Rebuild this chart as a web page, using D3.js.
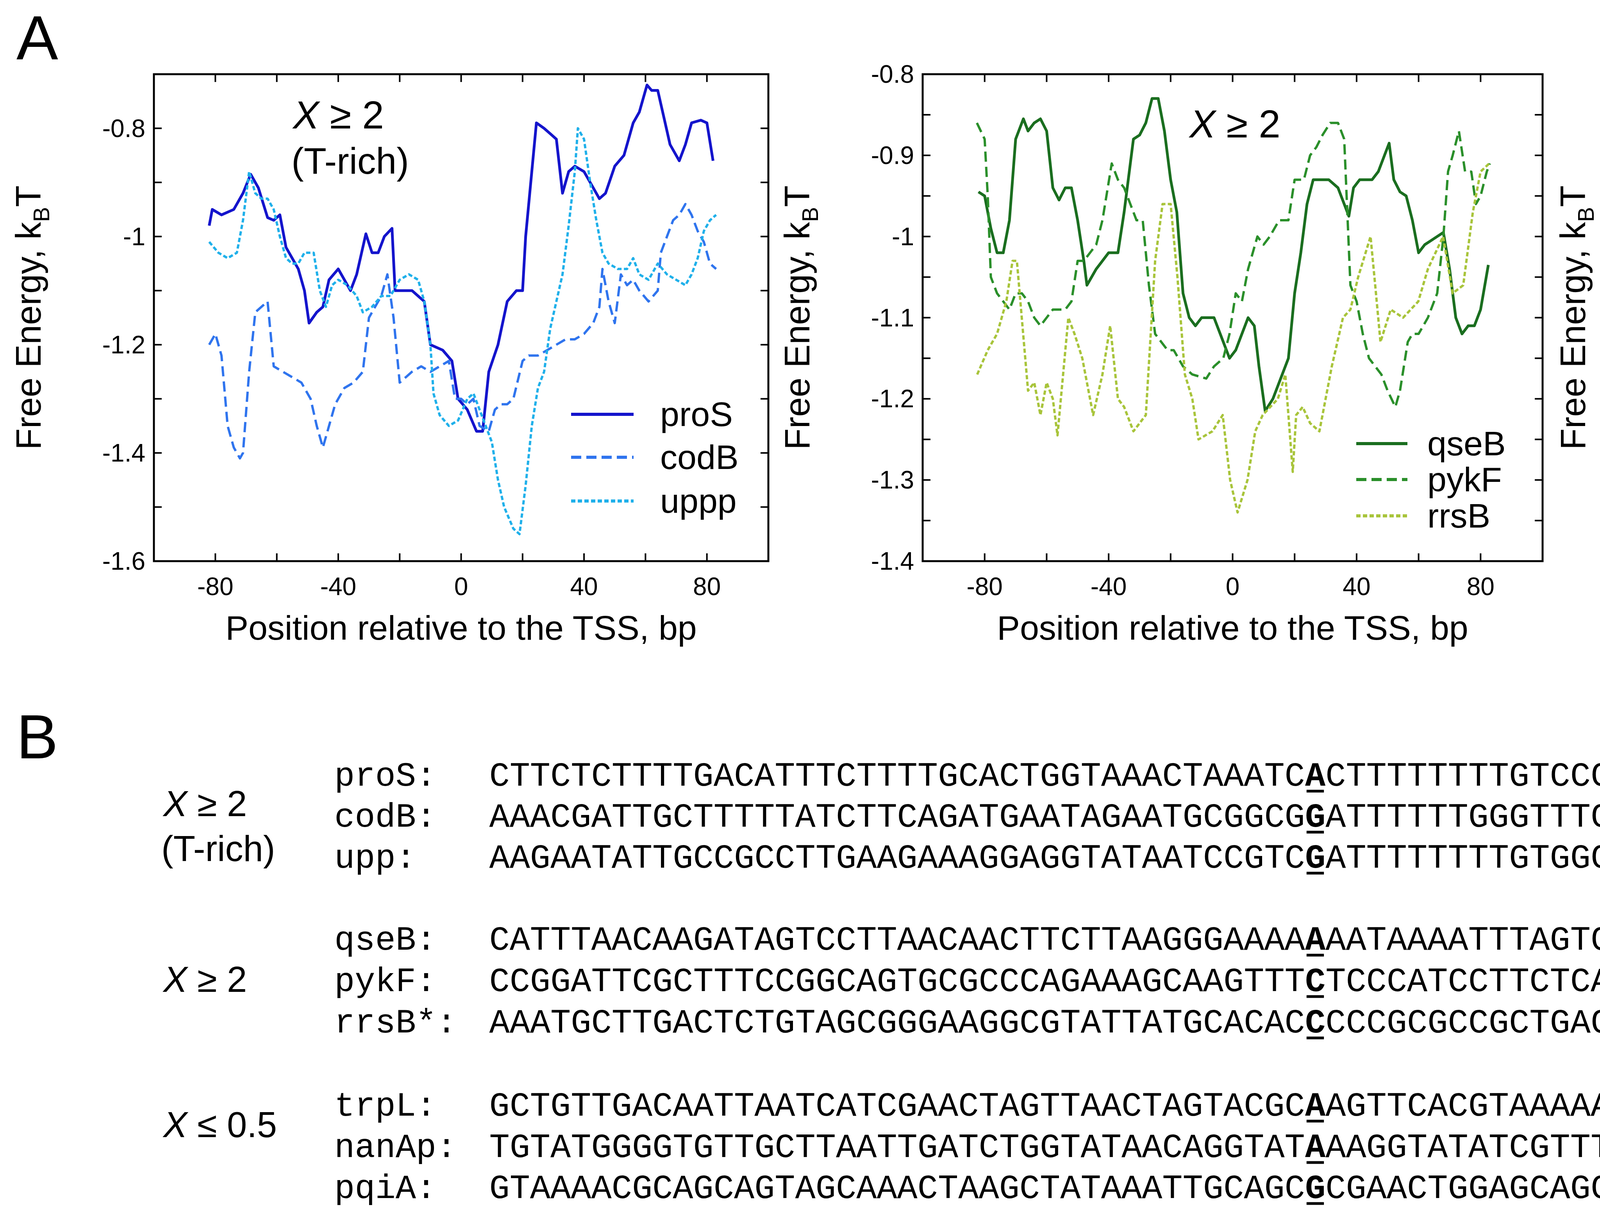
<!DOCTYPE html>
<html><head><meta charset="utf-8">
<script src="https://cdn.jsdelivr.net/npm/d3@7"></script>
<style>body{margin:0;background:#fff}svg{display:block}</style>
</head><body>
<script>
// ---------- DATA ----------
const proS=[[-82,-0.98],[-81,-0.95],[-78,-0.96],[-74,-0.95],[-71,-0.92],[-68.5,-0.885],[-66,-0.91],[-63,-0.965],[-61,-0.97],[-59,-0.96],[-57,-1.02],[-55,-1.04],[-53,-1.06],[-51,-1.1],[-49.5,-1.16],[-47,-1.14],[-45,-1.13],[-43,-1.08],[-40,-1.06],[-38,-1.08],[-36,-1.1],[-34,-1.07],[-31,-0.995],[-29,-1.03],[-27,-1.03],[-25,-1.0],[-22.5,-0.985],[-21.5,-1.1],[-20,-1.1],[-16,-1.1],[-12,-1.12],[-10,-1.2],[-6,-1.21],[-3,-1.23],[-1,-1.3],[2,-1.32],[5,-1.36],[7,-1.36],[9,-1.25],[12,-1.2],[15,-1.12],[18,-1.1],[20,-1.1],[21,-1.0],[23,-0.88],[24.5,-0.79],[27,-0.8],[29,-0.81],[31,-0.82],[33,-0.92],[35,-0.88],[37,-0.87],[40,-0.88],[42,-0.9],[45,-0.93],[47,-0.92],[50,-0.87],[53,-0.85],[56,-0.79],[58,-0.77],[60.5,-0.72],[62,-0.73],[64,-0.73],[66,-0.78],[68,-0.83],[71,-0.86],[73,-0.83],[75,-0.79],[78,-0.785],[80,-0.79],[82,-0.86]];
const codB=[[-82,-1.2],[-80,-1.18],[-78,-1.22],[-76,-1.35],[-74,-1.39],[-72,-1.41],[-71,-1.4],[-69,-1.25],[-67,-1.14],[-65,-1.13],[-63,-1.12],[-61,-1.24],[-58,-1.25],[-55,-1.26],[-52,-1.27],[-49,-1.3],[-47,-1.35],[-45,-1.39],[-43,-1.35],[-41,-1.31],[-38,-1.28],[-35,-1.27],[-32,-1.25],[-30,-1.15],[-28,-1.13],[-26,-1.11],[-24,-1.07],[-22,-1.15],[-20,-1.27],[-18,-1.26],[-16,-1.25],[-13,-1.24],[-10,-1.25],[-7,-1.24],[-4,-1.23],[-2,-1.3],[0,-1.3],[2,-1.31],[4,-1.3],[6,-1.35],[9,-1.36],[11,-1.32],[13,-1.31],[15,-1.31],[17,-1.3],[20,-1.23],[22,-1.22],[25,-1.22],[28,-1.21],[31,-1.2],[34,-1.19],[37,-1.19],[40,-1.18],[43,-1.16],[45,-1.13],[46,-1.06],[48,-1.12],[50,-1.16],[52,-1.07],[54,-1.09],[56,-1.08],[58,-1.1],[61,-1.12],[64,-1.1],[65,-1.03],[67,-1.0],[69,-0.97],[71,-0.96],[73,-0.94],[75,-0.96],[77,-0.99],[79,-1.01],[81,-1.05],[83,-1.06]];
const uppp=[[-82,-1.01],[-79,-1.03],[-76,-1.04],[-73,-1.03],[-71,-0.97],[-69,-0.88],[-67,-0.92],[-65,-0.93],[-63,-0.93],[-61,-0.95],[-59,-1.0],[-57,-1.04],[-55,-1.05],[-53,-1.05],[-51,-1.03],[-48,-1.03],[-46,-1.1],[-44,-1.13],[-42,-1.09],[-40,-1.08],[-37,-1.09],[-34,-1.11],[-32,-1.14],[-29,-1.13],[-26,-1.11],[-23,-1.11],[-20,-1.08],[-17,-1.07],[-14,-1.08],[-12,-1.12],[-10,-1.2],[-9,-1.29],[-7,-1.33],[-4,-1.35],[-1,-1.34],[2,-1.3],[4,-1.29],[6,-1.32],[8,-1.35],[10,-1.38],[12,-1.45],[14,-1.5],[17,-1.54],[19,-1.55],[21,-1.46],[23,-1.35],[25,-1.28],[27,-1.25],[29,-1.17],[31,-1.12],[33,-1.07],[35,-0.98],[37,-0.88],[38,-0.8],[40,-0.82],[42,-0.9],[44,-0.97],[46,-1.03],[48,-1.05],[51,-1.06],[54,-1.06],[56,-1.04],[58,-1.07],[61,-1.08],[64,-1.05],[67,-1.07],[70,-1.08],[73,-1.09],[75,-1.07],[77,-1.04],[79,-0.99],[81,-0.97],[83,-0.96]];
const qseB=[[-82,-0.945],[-80,-0.95],[-78,-0.99],[-76,-1.02],[-74,-1.02],[-72,-0.98],[-70,-0.88],[-67.5,-0.855],[-66,-0.87],[-64,-0.86],[-62,-0.855],[-60,-0.87],[-58,-0.94],[-56,-0.955],[-54,-0.94],[-52,-0.94],[-50,-0.98],[-48,-1.03],[-47,-1.06],[-44,-1.04],[-42,-1.03],[-40,-1.02],[-37,-1.02],[-35,-0.97],[-32,-0.88],[-30,-0.875],[-28,-0.86],[-26,-0.83],[-24,-0.83],[-22,-0.87],[-20,-0.93],[-18,-0.97],[-16,-1.07],[-14,-1.1],[-12,-1.11],[-10,-1.1],[-8,-1.1],[-6,-1.1],[-4,-1.12],[-1,-1.15],[1,-1.14],[3,-1.12],[5,-1.1],[7,-1.11],[8.5,-1.16],[10.5,-1.215],[13,-1.2],[16,-1.17],[18,-1.15],[20,-1.07],[22,-1.02],[24,-0.96],[26,-0.93],[28,-0.93],[31,-0.93],[34,-0.94],[36,-0.96],[37.5,-0.975],[39,-0.94],[41,-0.93],[43,-0.93],[45,-0.93],[47,-0.92],[49,-0.9],[50.5,-0.885],[52,-0.93],[54,-0.945],[56,-0.95],[58,-0.98],[60,-1.02],[62,-1.01],[64,-1.005],[66,-1.0],[68,-0.995],[70,-1.04],[72,-1.1],[74,-1.12],[76,-1.11],[78,-1.11],[80,-1.09],[82.5,-1.035]];
const pykF=[[-82.5,-0.86],[-80,-0.88],[-79,-0.95],[-78,-1.05],[-76,-1.07],[-74,-1.08],[-72,-1.09],[-70,-1.07],[-68,-1.07],[-66,-1.08],[-64,-1.1],[-62,-1.11],[-60,-1.1],[-58,-1.09],[-56,-1.09],[-54,-1.09],[-52,-1.08],[-50,-1.03],[-48,-1.03],[-46,-1.02],[-44,-1.01],[-42,-0.98],[-39,-0.91],[-37,-0.93],[-35,-0.94],[-33,-0.96],[-31,-0.98],[-29,-0.98],[-27,-1.06],[-25,-1.12],[-23,-1.13],[-21,-1.14],[-19,-1.14],[-16,-1.16],[-13,-1.17],[-8.5,-1.175],[-6,-1.16],[-3,-1.15],[-1,-1.12],[1,-1.07],[3,-1.08],[5,-1.04],[8,-1.0],[10,-1.01],[12,-1.0],[15,-0.98],[18,-0.98],[20,-0.93],[23,-0.93],[25,-0.9],[27,-0.89],[29,-0.875],[31.5,-0.86],[34,-0.86],[36,-0.88],[38,-1.06],[40,-1.08],[42,-1.12],[44,-1.15],[46,-1.16],[48,-1.17],[50,-1.19],[52.5,-1.21],[54,-1.19],[56.5,-1.13],[58,-1.12],[60,-1.12],[63,-1.1],[66,-1.07],[68,-1.0],[69.5,-0.92],[71,-0.9],[73,-0.87],[75,-0.92],[77,-0.92],[78.5,-0.96],[80,-0.95],[82,-0.92],[83,-0.91]];
const rrsB=[[-82.4,-1.17],[-79,-1.14],[-76,-1.12],[-73,-1.08],[-71,-1.03],[-69.6,-1.03],[-66,-1.19],[-64,-1.18],[-62,-1.22],[-60,-1.18],[-58,-1.2],[-56.5,-1.245],[-53,-1.1],[-51,-1.12],[-48.5,-1.15],[-45,-1.22],[-42,-1.17],[-39.5,-1.11],[-37,-1.2],[-35,-1.21],[-32,-1.24],[-28,-1.22],[-25,-1.03],[-22.6,-0.96],[-20,-0.96],[-17.8,-1.05],[-15.4,-1.17],[-13,-1.2],[-11,-1.25],[-6.5,-1.24],[-3.2,-1.22],[-0.8,-1.3],[1.6,-1.34],[4.8,-1.3],[7.3,-1.24],[9.7,-1.22],[14.6,-1.2],[17,-1.17],[19.4,-1.29],[20.5,-1.22],[22.6,-1.21],[25,-1.23],[28,-1.24],[32,-1.16],[35.6,-1.1],[38,-1.09],[40.5,-1.05],[44.5,-1.0],[46,-1.06],[47.7,-1.13],[51,-1.09],[55,-1.1],[59.9,-1.08],[63,-1.04],[67.9,-1.0],[71,-1.07],[74.4,-1.06],[77.5,-0.97],[80,-0.92],[82.8,-0.91]];
const trpL=[[-82.4,-1.04],[-80,-1.04],[-78,-1.0],[-74,-1.015],[-71,-0.97],[-68,-0.99],[-66,-0.99],[-64,-0.88],[-62,-0.87],[-60.5,-0.885],[-59,-0.86],[-54,-0.84],[-51,-0.87],[-48.5,-0.85],[-45.6,-0.78],[-43,-0.9],[-39.7,-0.93],[-34.9,-1.035],[-31.5,-1.02],[-26.7,-1.015],[-22.6,-0.99],[-19.4,-0.85],[-15.3,-0.825],[-11.3,-0.85],[-7.3,-0.84],[-4,-0.735],[-1.6,-0.74],[1.6,-0.8],[4,-0.83],[6.5,-0.82],[9.7,-0.86],[12,-0.825],[20,-0.835],[23.4,-0.84],[25.8,-0.79],[28.3,-0.86],[30.7,-0.915],[33.9,-0.89],[38.8,-0.9],[41,-0.96],[43.6,-0.97],[47.7,-0.92],[50,-0.92],[52.5,-0.825],[55.7,-0.825],[58.9,-0.89],[62,-0.98],[65.4,-0.99],[67.8,-1.03],[71.8,-1.02],[74.2,-0.905],[78.2,-0.93],[80,-0.96],[82.4,-0.99]];
const nanAp=[[-82.4,-1.225],[-77.5,-1.225],[-71.8,-1.21],[-69.4,-1.15],[-67.9,-1.07],[-65.5,-1.04],[-63,-1.04],[-61.4,-0.96],[-59,-0.93],[-55,-0.915],[-51,-0.91],[-48.5,-0.91],[-46.9,-0.84],[-43.6,-0.83],[-36.3,-0.84],[-33.9,-0.865],[-29,-0.865],[-27.5,-0.82],[-23.4,-0.8],[-21,-0.71],[-19.4,-0.69],[-16.2,-0.705],[-13.7,-0.67],[-10.5,-0.625],[-8,-0.655],[-5.7,-0.66],[-3.2,-0.72],[-0.8,-0.8],[2.4,-0.81],[3.2,-0.87],[7.3,-0.86],[13.7,-0.87],[18.6,-0.88],[21,-0.92],[23.4,-1.01],[26.7,-1.02],[29,-0.99],[31.5,-0.975],[33.9,-0.935],[35.5,-0.96],[37.2,-1.04],[39.6,-1.09],[42.8,-1.16],[46,-1.165],[48.5,-1.13],[53.3,-1.12],[56.5,-1.09],[59.7,-1.1],[63,-1.09],[67.8,-1.07],[71,-1.04],[74.2,-1.03],[78.2,-1.025],[82.4,-0.99]];
const pqiA=[[-82.4,-1.165],[-78.4,-1.16],[-76,-1.2],[-73.5,-1.24],[-70.6,-1.265],[-68.7,-1.22],[-66.3,-1.16],[-63.8,-1.15],[-61.4,-1.06],[-59.3,-0.97],[-55.7,-1.0],[-51.7,-1.03],[-46.9,-1.03],[-44.4,-0.93],[-42,-0.77],[-38,-0.755],[-33.9,-0.76],[-30.7,-0.75],[-28.3,-0.78],[-25.8,-0.79],[-24,-0.87],[-21.8,-0.875],[-18.6,-0.87],[-16.2,-0.96],[-11.3,-0.97],[-5.7,-0.97],[-4,-0.98],[-1.6,-0.94],[0,-0.96],[2.4,-0.98],[4.8,-0.98],[6.5,-0.87],[9.7,-0.85],[12,-0.83],[15.3,-0.805],[20,-0.81],[23.4,-0.85],[26.7,-0.9],[29.9,-0.91],[32.3,-0.86],[36.4,-0.815],[40.4,-0.85],[44.4,-0.86],[49.2,-0.855],[52.5,-0.83],[54.4,-0.79],[57.3,-0.84],[60.5,-0.86],[63,-0.93],[66.2,-1.07],[69.4,-1.12],[73.4,-1.11],[76.6,-1.1],[79,-1.05],[82.4,-1.065]];

const seriesNames=[["proS","codB","uppp"],["qseB","pykF","rrsB"],["trpL","nanAp","pqiA"]];
const seriesData=[[proS,codB,uppp],[qseB,pykF,rrsB],[trpL,nanAp,pqiA]];
const seriesColors=[["#1414cc","#2f74ee","#1fb0ea"],["#1a6e1f","#2a8f2a","#a8c43a"],["#f0107a","#de4fb0","#dd7ee0"]];
const yDomains=[[-1.6,-0.7],[-1.4,-0.8],[-1.3,-0.6]];
const yLabelTicks=[[-1.6,-1.4,-1.2,-1,-0.8],[-1.4,-1.3,-1.2,-1.1,-1,-0.9,-0.8],[-1.3,-1.2,-1.1,-1,-0.9,-0.8,-0.7,-0.6]];
const yMinorStep=[0.1,0.05,0.05];
const xLabelTicks=[-80,-40,0,40,80];
const xMinorTicks=[-80,-60,-40,-20,0,20,40,60,80];
const annotations=[["X","≥ 2","(T-rich)"],["X","≥ 2",""],["X","≤ 0.5",""]];

const seqLabels=["proS:","codB:","upp:","qseB:","pykF:","rrsB*:","trpL:","nanAp:","pqiA:"];
const seqLeft=["CTTCTCTTTTGACATTTCTTTTGCACTGGTAAACTAAATC","AAACGATTGCTTTTTATCTTCAGATGAATAGAATGCGGCG","AAGAATATTGCCGCCTTGAAGAAAGGAGGTATAATCCGTC","CATTTAACAAGATAGTCCTTAACAACTTCTTAAGGGAAAA","CCGGATTCGCTTTCCGGCAGTGCGCCCAGAAAGCAAGTTT","AAATGCTTGACTCTGTAGCGGGAAGGCGTATTATGCACAC","GCTGTTGACAATTAATCATCGAACTAGTTAACTAGTACGC","TGTATGGGGTGTTGCTTAATTGATCTGGTATAACAGGTAT","GTAAAACGCAGCAGTAGCAAACTAAGCTATAAATTGCAGC"];
const seqMid=["A","G","G","A","C","C","A","A","G"];
const seqRight=["CTTTTTTTTGTCCCAGGCTCGCCTTGAGCCTGTTCTACC","ATTTTTTGGGTTTCAAACAGCAAAAAGGGGGAATTTCGT","ATTTTTTTTGTGGCTGCCCCTCAAAGGAGAAAGAGTATG","AATAAAATTTAGTGCTGTACAGAGCGCGTTACAACACGG","TCCCATCCTTCTCAACTTAAAGACTAAGACTGTCATGAA","CCCGCGCCGCTGAGAAAAAGCGAAGCGGCACTGCTCTTTA","AGTTCACGTAAAAAGGGTATCGACAATGAAAGCAATTTT","AAGGTATATCGTTTATCAGACAAGCATCACTTCAGAGGT","CGAACTGGAGCAGCTACCGCAATTGCTCGAAGATCTGGA"];
const groupLabels=[["X","≥ 2","(T-rich)"],["X","≥ 2",""],["X","≤ 0.5",""]];

// ---------- LAYOUT ----------
const W=5966,H=3114;
const svg=d3.select("body").append("svg").attr("width",W).attr("height",H).attr("viewBox",`0 0 ${W} ${H}`);
const SANS="'Liberation Sans',Arial,sans-serif";
const MONO="'Liberation Mono','Courier New',monospace";
const panels=[{l:394,r:1967},{l:2362,r:3949},{l:4348,r:5931}];
const pTop=190,pBottom=1437;
const legendPos=[{x1:1462,x2:1622,tx:1690,ys:[1061,1171,1283]},{x1:3472,x2:3603,tx:3654,ys:[1136,1228,1321]},{x1:4828,x2:4992,tx:5053,ys:[1095,1209,1325]}];
const annoPos=[{x:750,y:329,y2:445},{x:3045,y:352},{x:4428,y:352}];
const dashes=[null,"26,13","11,6"];
const fmt=v=>String(+v.toFixed(2));

svg.append("text").attr("x",42).attr("y",152).attr("font-family",SANS).attr("font-size",160).text("A");

panels.forEach((p,i)=>{
  const x=d3.scaleLinear().domain([-100,100]).range([p.l,p.r]);
  const y=d3.scaleLinear().domain(yDomains[i]).range([pBottom,pTop]);
  const g=svg.append("g");
  const tl=20;
  const yt=d3.range(yDomains[i][0],yDomains[i][1]+1e-9,yMinorStep[i]);
  yt.forEach(v=>{
    g.append("line").attr("x1",p.l).attr("x2",p.l+tl).attr("y1",y(v)).attr("y2",y(v)).attr("stroke","#000").attr("stroke-width",4);
    g.append("line").attr("x1",p.r).attr("x2",p.r-tl).attr("y1",y(v)).attr("y2",y(v)).attr("stroke","#000").attr("stroke-width",4);
  });
  xMinorTicks.forEach(v=>{
    g.append("line").attr("x1",x(v)).attr("x2",x(v)).attr("y1",pBottom).attr("y2",pBottom-tl).attr("stroke","#000").attr("stroke-width",4);
    g.append("line").attr("x1",x(v)).attr("x2",x(v)).attr("y1",pTop).attr("y2",pTop+tl).attr("stroke","#000").attr("stroke-width",4);
  });
  g.append("rect").attr("x",p.l).attr("y",pTop).attr("width",p.r-p.l).attr("height",pBottom-pTop).attr("fill","none").attr("stroke","#000").attr("stroke-width",5);
  yLabelTicks[i].forEach(v=>{
    g.append("text").attr("x",p.l-22).attr("y",y(v)+22).attr("text-anchor","end").attr("font-family",SANS).attr("font-size",64).text(fmt(v));
  });
  xLabelTicks.forEach(v=>{
    g.append("text").attr("x",x(v)).attr("y",1524).attr("text-anchor","middle").attr("font-family",SANS).attr("font-size",64).text(fmt(v));
  });
  g.append("text").attr("x",(p.l+p.r)/2).attr("y",1638).attr("text-anchor","middle").attr("font-family",SANS).attr("font-size",88).text("Position relative to the TSS, bp");
  const yl=g.append("text").attr("transform",`translate(${p.l-290},${(pTop+pBottom)/2}) rotate(-90)`).attr("text-anchor","middle").attr("font-family",SANS).attr("font-size",90);
  yl.append("tspan").text("Free Energy,  k");
  yl.append("tspan").attr("font-size",58).attr("dy",22).text("B");
  yl.append("tspan").attr("dy",-22).text("T");
  const line=d3.line().x(d=>x(d[0])).y(d=>y(d[1]));
  seriesData[i].forEach((s,j)=>{
    g.append("path").datum(s).attr("d",line).attr("fill","none").attr("stroke",seriesColors[i][j]).attr("stroke-width",j==0?7:6).attr("stroke-dasharray",dashes[j]).attr("stroke-linejoin","round");
  });
  const lp=legendPos[i];
  seriesNames[i].forEach((n,j)=>{
    g.append("line").attr("x1",lp.x1).attr("x2",lp.x2).attr("y1",lp.ys[j]).attr("y2",lp.ys[j]).attr("stroke",seriesColors[i][j]).attr("stroke-width",8).attr("stroke-dasharray",dashes[j]);
    g.append("text").attr("x",lp.tx).attr("y",lp.ys[j]+30).attr("font-family",SANS).attr("font-size",88).text(n);
  });
  const a=annotations[i], ap=annoPos[i];
  const at=g.append("text").attr("x",ap.x).attr("y",ap.y).attr("font-family",SANS).attr("font-size",100);
  at.append("tspan").attr("font-style","italic").text(a[0]);
  at.append("tspan").text(" "+a[1]);
  if(a[2]) g.append("text").attr("x",ap.x-4).attr("y",ap.y2).attr("font-family",SANS).attr("font-size",95).text(a[2]);
});

// ---------- PANEL B ----------
svg.append("text").attr("x",42).attr("y",1942).attr("font-family",SANS).attr("font-size",160).text("B");
const rowY=[1982,2087,2192,2402,2508,2614,2827,2933,3038];
const midX=3367, cw=52.4, fs=87;
rowY.forEach((yy,i)=>{
  const b=yy+30;
  svg.append("text").attr("x",856).attr("y",b).attr("font-family",MONO).attr("font-size",fs).text(seqLabels[i]);
  svg.append("text").attr("x",midX-cw/2).attr("y",b).attr("text-anchor","end").attr("font-family",MONO).attr("font-size",fs).text(seqLeft[i]);
  svg.append("text").attr("x",midX).attr("y",b).attr("text-anchor","middle").attr("font-family",MONO).attr("font-size",fs).attr("font-weight","bold").text(seqMid[i]);
  svg.append("line").attr("x1",midX-cw/2+4).attr("x2",midX+cw/2-4).attr("y1",b+14).attr("y2",b+14).attr("stroke","#000").attr("stroke-width",7);
  svg.append("text").attr("x",midX+cw/2).attr("y",b).attr("font-family",MONO).attr("font-size",fs).text(seqRight[i]);
});
const gY=[[2060,2175],[2510],[2882]];
groupLabels.forEach((gl,i)=>{
  const t=svg.append("text").attr("x",418).attr("y",gY[i][0]+30).attr("font-family",SANS).attr("font-size",92);
  t.append("tspan").attr("font-style","italic").text(gl[0]);
  t.append("tspan").text(" "+gl[1]);
  if(gl[2]) svg.append("text").attr("x",413).attr("y",gY[i][1]+30).attr("font-family",SANS).attr("font-size",92).text(gl[2]);
});
</script>
</body></html>
